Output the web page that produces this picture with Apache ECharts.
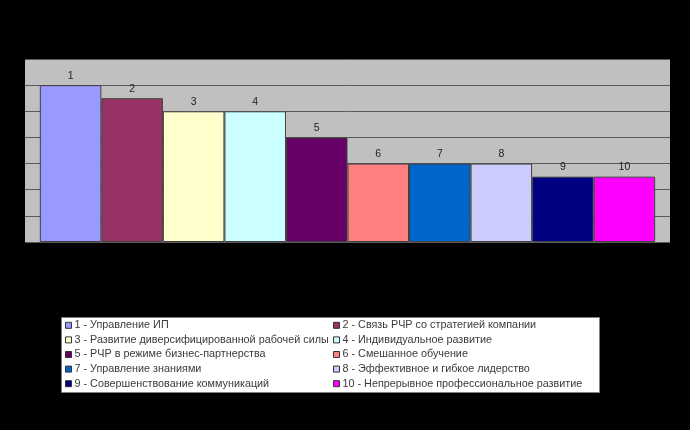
<!DOCTYPE html>
<html>
<head>
<meta charset="utf-8">
<script src="https://cdn.jsdelivr.net/npm/echarts@6/dist/echarts.min.js"></script>
<style>html,body{margin:0;padding:0;background:#000;}#c{width:690px;height:430px;}</style>
</head>
<body>
<div id="c"></div>
<script>
const barLabels = ['1','2','3','4','5','6','7','8','9','10'];
const seriesNames = [
  '1 - Управление ИП',
  '2 - Связь РЧР со стратегией компании',
  '3 - Развитие диверсифицированной рабочей силы',
  '4 - Индивидуальное развитие',
  '5 - РЧР в режиме бизнес-партнерства',
  '6 - Смешанное обучение',
  '7 - Управление знаниями',
  '8 - Эффективное и гибкое лидерство',
  '9 - Совершенствование коммуникаций',
  '10 - Непрерывное профессиональное развитие'
];
const values = [6, 5.5, 5, 5, 4, 3, 3, 3, 2.5, 2.5];
const colors = ['#9999FF','#993366','#FFFFCC','#CCFFFF','#660066','#FF8080','#0066CC','#CCCCFF','#000080','#FF00FF'];
const yTicks = [0, 1, 2, 3, 4, 5, 6, 7];

const chart = echarts.init(document.getElementById('c'));
const series = seriesNames.map((n, i) => ({
  type: 'bar',
  name: n,
  data: [values[i]],
  barGap: '0%',
  barCategoryGap: '4.6%',
  itemStyle: { color: colors[i], borderColor: '#404040', borderWidth: 1 },
  label: {
    show: true, position: 'top', distance: 4,
    formatter: () => barLabels[i],
    color: '#222', fontSize: 10.5, fontFamily: 'Liberation Sans, Arial, sans-serif'
  }
}));
const legendText = { color: '#3a3a3a', fontSize: 10.8, fontFamily: 'Liberation Sans, Arial, sans-serif', lineHeight: 14.6, padding: [0,0,0,-2] };
const legendCommon = {
  orient: 'vertical', padding: 0, itemGap: 0, itemWidth: 6, itemHeight: 6,
  icon: 'rect', selectedMode: false, textStyle: legendText,
  itemStyle: { borderColor: '#333', borderWidth: 1 }
};
chart.setOption({
  backgroundColor: '#000',
  animation: false,
  graphic: [{
    type: 'rect', left: 61, top: 317, z: -1,
    shape: { width: 538, height: 75 },
    style: { fill: '#fff', stroke: '#808080', lineWidth: 1 }
  }],
  legend: [
    Object.assign({}, legendCommon, { left: 65, top: 318, data: seriesNames.filter((_, i) => i % 2 === 0) }),
    Object.assign({}, legendCommon, { left: 333, top: 318, data: seriesNames.filter((_, i) => i % 2 === 1) })
  ],
  grid: { left: 25, right: 20, top: 59, bottom: 188, show: true, backgroundColor: '#C0C0C0', borderWidth: 0 },
  xAxis: {
    type: 'category', data: [''],
    axisLine: { show: false }, axisTick: { show: false }, axisLabel: { show: false }
  },
  yAxis: {
    type: 'value', min: yTicks[0], max: yTicks[yTicks.length - 1], interval: 1,
    axisLine: { show: false }, axisTick: { show: false },
    axisLabel: { color: '#000', fontSize: 10 },
    splitLine: { lineStyle: { color: '#5a5a5a', width: 1 } }
  },
  series: series
});
</script>
</body>
</html>
